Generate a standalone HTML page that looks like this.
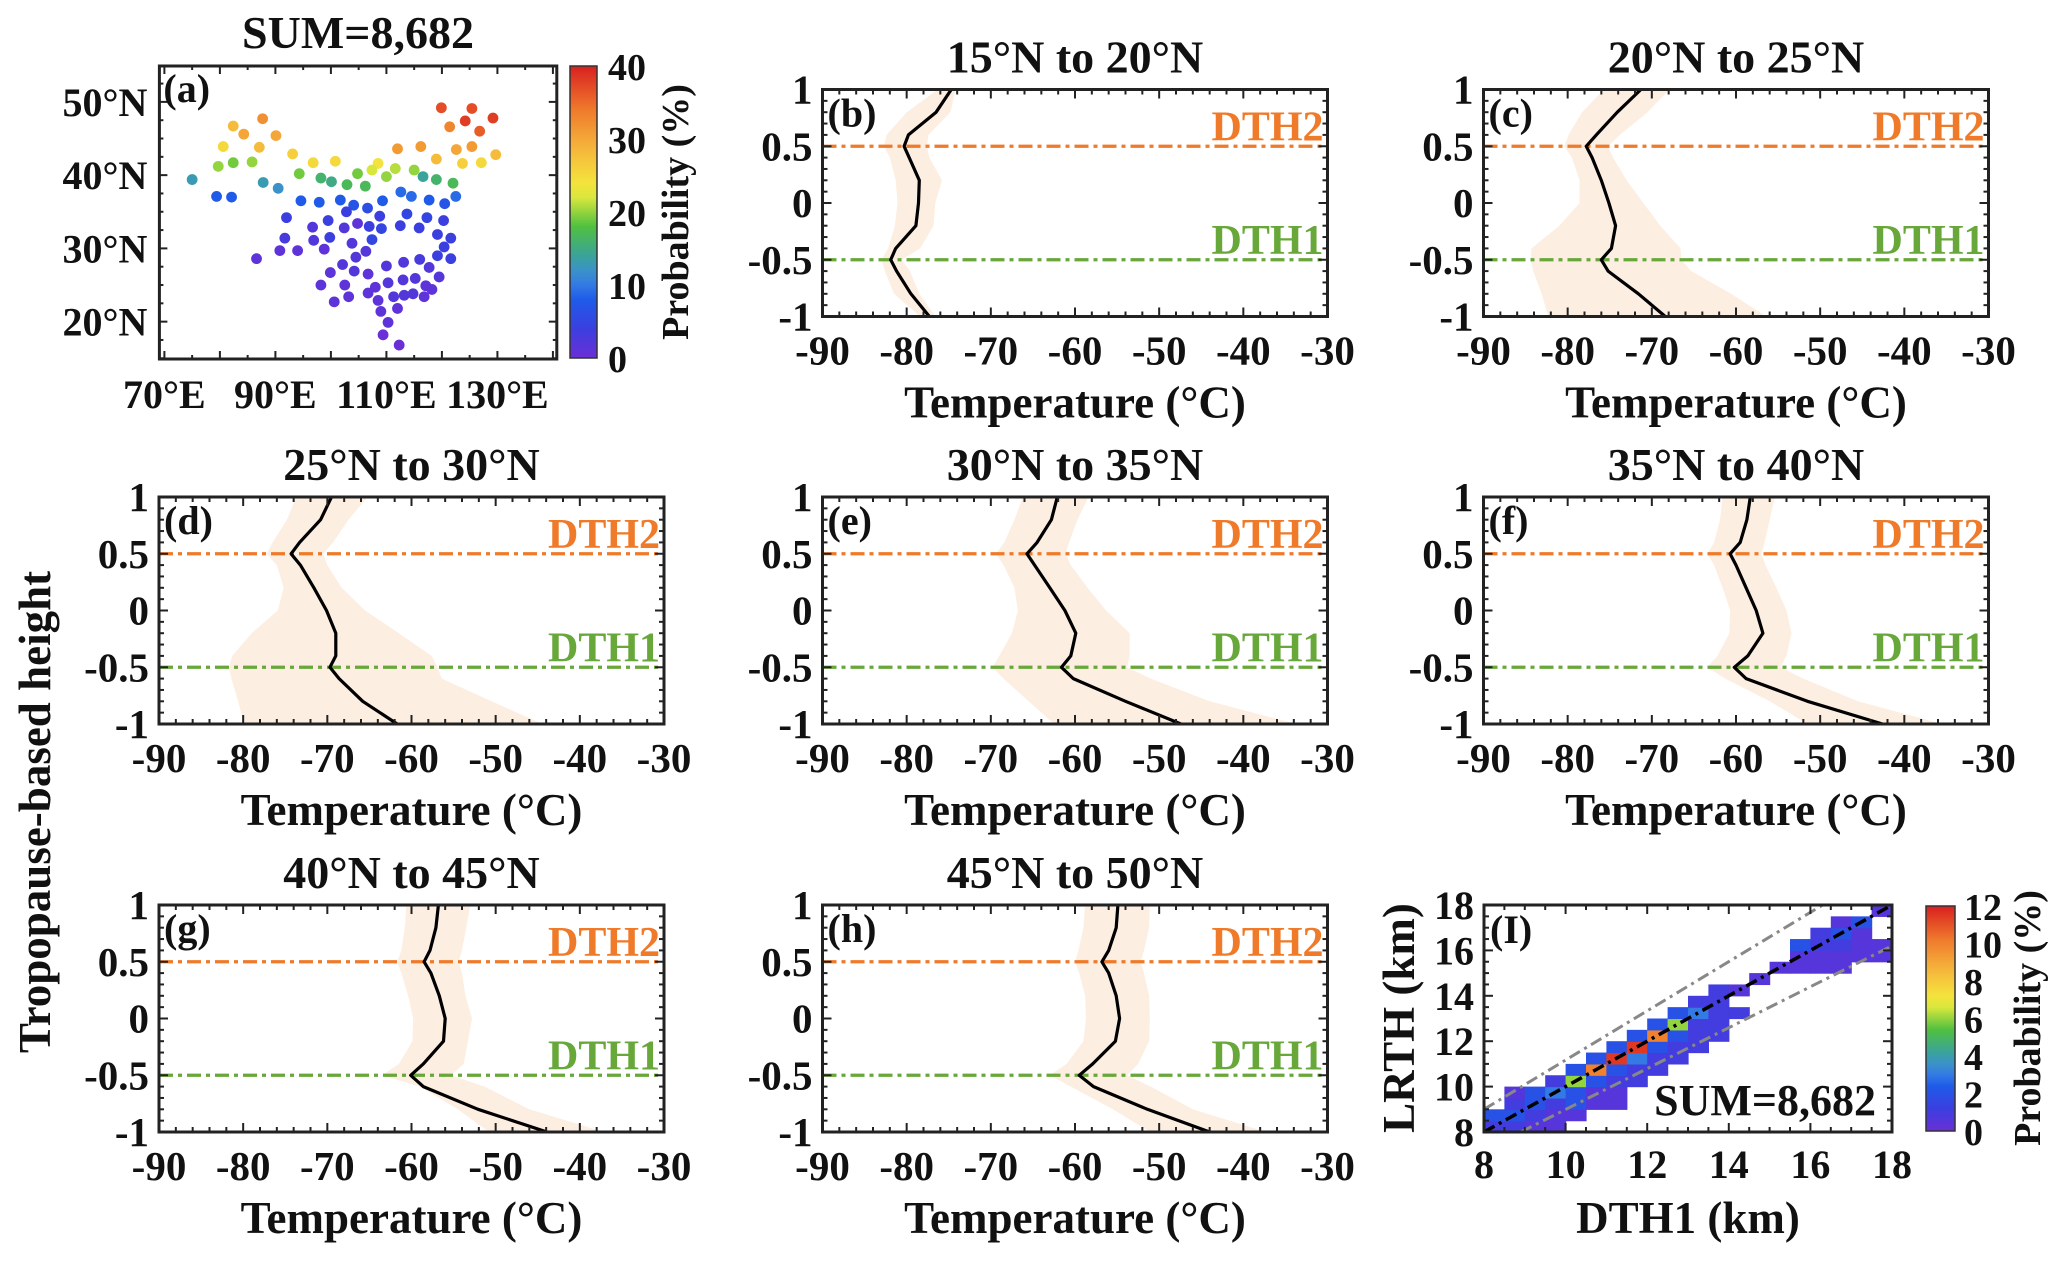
<!DOCTYPE html>
<html><head><meta charset="utf-8">
<style>
html,body{margin:0;padding:0;background:#fff;}
svg{display:block;}
text{font-family:"Liberation Serif",serif;font-weight:bold;fill:#111;}
</style></head>
<body>
<svg id="fig" width="2067" height="1263" viewBox="0 0 2067 1263" xmlns="http://www.w3.org/2000/svg"></svg>
<script>
// ---------- DATA ----------
const heights = [-1,-0.8,-0.6,-0.5,-0.4,-0.2,0,0.2,0.4,0.5,0.6,0.8,1];
const panelTitles = ["15°N to 20°N","20°N to 25°N","25°N to 30°N","30°N to 35°N","35°N to 40°N","40°N to 45°N","45°N to 50°N"];
const panelLetters = ["(b)","(c)","(d)","(e)","(f)","(g)","(h)"];
const meanB=[-77.3,-79.5,-81.2,-81.9,-81.3,-78.9,-78.6,-78.5,-79.7,-80.3,-79.8,-76.5,-74.7];
const lowB =[-78.4,-81.5,-82.6,-83,-82.2,-81.4,-81.1,-81.3,-82,-82.7,-82.4,-80,-76.3];
const upB  =[-76.6,-78.5,-79.6,-80.6,-78.4,-76.8,-76.6,-75.8,-77.3,-77.6,-77.4,-74.8,-74.2];
const meanC=[-68.4,-71.6,-75.2,-76,-74.8,-74.3,-75.1,-76,-77.1,-77.8,-76.6,-74.1,-71.3];
const lowC =[-82.3,-83.1,-84.1,-84.4,-84.3,-81,-78.6,-78.6,-79.5,-80.4,-79.9,-78.3,-75.7];
const upC  =[-56.4,-60.6,-65.3,-66.5,-66.6,-69,-71,-73,-74.6,-75.2,-73.8,-70.5,-67.9];
const meanD=[-61.7,-65.8,-68.6,-69.7,-69,-69,-70.1,-71.6,-73.2,-74.3,-73.3,-70.8,-69.5];
const lowD =[-79.9,-80.6,-81.4,-81.7,-81.3,-79,-75.9,-75.2,-76,-77.2,-76.5,-74.8,-73.7];
const upD  =[-44.4,-50.5,-56.4,-56.9,-57.6,-61.5,-65.5,-68.3,-70,-70.5,-69.3,-67.5,-65.2];
const meanE=[-47.4,-54,-60.2,-61.6,-60.5,-59.9,-61.2,-63,-64.8,-65.7,-64.5,-62.8,-62.1];
const lowE =[-62.5,-65.5,-68.5,-69.8,-69,-67.5,-66.8,-67.2,-68.5,-69.4,-68.4,-67.2,-66.2];
const upE  =[-33.7,-44,-51,-53.8,-53.5,-53.5,-56.3,-58.5,-60.5,-61.1,-60.7,-59.7,-58.4];
const meanF=[-42.6,-51.5,-58.8,-60.2,-58.6,-56.8,-57.6,-58.8,-60,-60.7,-59.5,-58.7,-58.3];
const lowF =[-51.5,-56,-61.3,-63.4,-62.2,-60.8,-60.7,-61.6,-62.6,-63.4,-62.6,-61.9,-61.6];
const upF  =[-35.5,-45.5,-52,-54.7,-54,-53.4,-54,-55.2,-56.5,-57,-56.6,-56,-55.4];
const meanG=[-43.9,-52.1,-58.6,-60.1,-58.6,-56.2,-56,-56.7,-57.7,-58.5,-57.8,-57.1,-56.8];
const lowG =[-50.8,-54.5,-59,-63.5,-61.5,-59.9,-59.8,-60.4,-61.2,-61.7,-61.2,-60.8,-60.6];
const upG  =[-37.1,-46,-51.3,-55.3,-53.8,-53.3,-52.8,-53.6,-54,-54.4,-54,-53.5,-53];
const meanH=[-44,-51.4,-57.8,-59.5,-57.9,-55.2,-54.7,-55.1,-56,-56.8,-56,-55.1,-54.9];
const lowH =[-51.1,-55.5,-60.5,-63,-61,-59,-58.7,-58.8,-59.5,-60,-59.6,-59,-58.8];
const upH  =[-37.3,-46,-51,-53.8,-52.5,-51.2,-51.1,-51.2,-51.8,-52.2,-51.8,-51.2,-51.1];
const xTicks=[-90,-80,-70,-60,-50,-40,-30];
const yTicks=[-1,-0.5,0,0.5,1];
const yTickLabels=["-1","-0.5","0","0.5","1"];

// map stations (lon, lat, probability %)
const stLon=[119.9,125.4,124.2,129.2,121.4,126.8,87.7,82.4,84.3,90.1,80.6,87.1,93.1,96.8,100.8,108.5,112.0,116.2,119.0,122.6,125.4,129.7,123.7,127.1,79.7,82.4,85.8,94.3,98.2,100.1,102.9,104.8,106.2,107.4,110.0,111.6,115.0,116.6,119.0,122.0,75.0,87.8,90.5,79.4,82.1,94.6,97.9,101.7,104.1,106.6,109.3,112.6,114.5,117.7,120.5,122.5,102.8,108.8,113.7,117.3,120.3,92.0,99.5,106.9,109.1,112.5,115.9,99.8,119.2,121.6,107.4,120.4,119.2,121.6,91.7,116.0,96.7,102.4,104.8,96.9,103.8,90.8,94.0,98.8,106.3,86.6,104.5,102.1,110.0,113.1,117.7,99.9,104.2,106.7,119.5,98.2,102.5,110.3,113.0,115.2,117.1,118.2,108.0,106.7,100.6,103.2,108.5,111.3,113.2,114.8,116.8,109.0,112.0,110.3,109.4,112.3];
const stLat=[49.2,49.1,47.4,47.8,46.6,46.0,47.7,46.7,45.6,45.4,43.9,43.8,42.9,41.7,41.9,41.6,43.6,43.9,42.2,43.5,43.9,42.8,41.6,41.7,41.2,41.7,41.8,40.2,39.6,39.1,38.7,40.2,38.5,40.7,39.8,40.9,40.7,39.8,39.4,38.9,39.4,39.0,38.2,37.1,37.0,36.5,36.3,36.6,35.9,35.5,36.5,37.7,37.1,36.6,36.1,37.1,35.0,34.4,34.7,34.2,33.8,34.2,33.8,33.0,32.7,33.1,32.8,31.5,31.9,31.4,31.2,30.2,29.0,28.6,31.4,28.5,32.9,32.8,33.4,31.1,30.7,29.7,29.7,29.9,29.6,28.6,28.8,27.8,27.6,28.1,27.4,26.7,26.9,26.5,26.1,25.0,25.0,25.3,25.7,25.9,24.9,24.4,24.7,23.9,22.7,23.4,22.9,23.4,23.6,23.8,23.4,21.4,21.8,19.9,18.2,16.8];
const stProb=[37,37,38,38,33,36,32,28,30,30,25,28,26,25,25,24,31,31,28,30,31,28,26,25,20,19,20,19,16,15,17,19,17,22,20,21,20,14,16,17,13,13,12,8,8,8,8,8,7,6,8,9,9,8,7,9,4,4,5,5,4,4,4,4,5,4,4,4,4,4,5,4,4,4,3,3,2,2,1,2,2,1,1,1,2,1,2,2,2,2,2,1,2,1,2,1,1,2,2,2,1,1,1,1,1,1,1,2,2,2,1,1,1,1,0,0];
const mapLonTicks=[70,90,110,130];
const mapLatTicks=[20,30,40,50];
const mapCbTicks=[0,10,20,30,40];

// heatmap cells (DTH1 lower edge km, LRTH lower edge km, probability %)
const hmX=[8,8.5,9,9.5, 8,8.5,9,9.5,10, 8.5,9,9.5,10,10.5,11, 8.5,9,9.5,10,10.5,11, 9.5,10,10.5,11,11.5, 10,10.5,11,11.5,12, 10.5,11,11.5,12,12.5, 11,11.5,12,12.5,13, 11.5,12,12.5,13,13.5, 12,12.5,13,13.5, 12.5,13,13.5,14, 13,13.5, 13.5,14, 14.5, 15,15.5,16,16.5, 15.5,16,16.5,17,17.5, 15.5,16,16.5,17,17.5, 16,16.5,17, 16.5,17, 17.5];
const hmY=[8,8,8,8, 8.5,8.5,8.5,8.5,8.5, 9,9,9,9,9,9, 9.5,9.5,9.5,9.5,9.5,9.5, 10,10,10,10,10, 10.5,10.5,10.5,10.5,10.5, 11,11,11,11,11, 11.5,11.5,11.5,11.5,11.5, 12,12,12,12,12, 12.5,12.5,12.5,12.5, 13,13,13,13, 13.5,13.5, 14,14, 14.5, 15,15,15,15, 15.5,15.5,15.5,15.5,15.5, 16,16,16,16,16, 16.5,16.5,16.5, 17,17, 17.5];
const hmV=[1,1,0.5,0.5, 2,2,1,0.5,0.5, 1,2,1,2,0.5,0.5, 0.5,2,3,2,0.5,0.5, 1,6,2,1,1, 2,10,2,1,1, 2,11.5,3,1,1, 2,11.5,2,1,1, 2,10,2,1,1, 2,6,1,1, 2,3,1,1, 1,1, 1,0.5, 0.5, 0.5,0.5,0.5,0.5, 0.5,0.5,0.5,0.5,0.5, 2,1,1,0.5,0.5, 1,2,0.5, 0.5,2, 0.5];
const hmTicks=[8,10,12,14,16,18];
const hmCbTicks=[0,2,4,6,8,10,12];

// ---------- HELPERS ----------
const NS="http://www.w3.org/2000/svg";
const svg=document.getElementById('fig');
function mk(tag,attrs,parent){const e=document.createElementNS(NS,tag);for(const k in attrs)e.setAttribute(k,attrs[k]);(parent||svg).appendChild(e);return e;}
function txt(x,y,s,size,anchor,parent,fill){const t=mk('text',{x:x,y:y,'font-size':size,'text-anchor':anchor||'middle'},parent);if(fill)t.style.fill=fill;t.textContent=s;return t;}
const stops=[[0,[106,47,214]],[0.1,[59,63,224]],[0.2,[31,91,232]],[0.27,[59,135,227]],[0.35,[58,163,154]],[0.45,[80,192,64]],[0.57,[244,239,60]],[0.72,[245,180,60]],[0.85,[239,122,44]],[1,[217,32,32]]];
function cmap(f){f=Math.max(0,Math.min(1,f));for(let i=1;i<stops.length;i++){if(f<=stops[i][0]){const a=stops[i-1],b=stops[i];const t=(f-a[0])/(b[0]-a[0]);const c=a[1].map((v,j)=>Math.round(v+(b[1][j]-v)*t));return `rgb(${c[0]},${c[1]},${c[2]})`;}}return 'rgb(217,32,32)';}
function colorbar(x,y,w,h,name,g){
  const defs=mk('defs',{},g);const id='grad'+name;
  const lg=mk('linearGradient',{id:id,x1:0,y1:1,x2:0,y2:0},defs);
  for(let i=0;i<=20;i++)mk('stop',{offset:i/20,'stop-color':cmap(i/20)},lg);
  const r=mk('rect',{x:x,y:y,width:w,height:h,fill:`url(#${id})`,stroke:'#333','stroke-width':1.5},g);
  
}

// ---------- MAP PANEL (a) ----------
(function(){
  const g=mk('g',{});
  const L=159.4,R=556.8,T=66,B=359,lon0=69.1,lon1=140.7,lat0=14.9,lat1=54.9;
  const sx=v=>L+(v-lon0)/(lon1-lon0)*(R-L), sy=v=>B-(v-lat0)/(lat1-lat0)*(B-T);
  const t=txt(358,48,"SUM=8,682",46,'middle',g);
  for(let i=0;i<stLon.length;i++){
    const c=mk('circle',{cx:sx(stLon[i]),cy:sy(stLat[i]),r:5.4,fill:cmap(stProb[i]/40)},g);
    
  }
  const fr=mk('rect',{x:L,y:T,width:R-L,height:B-T,fill:'none',stroke:'#222','stroke-width':3},g);
  
  for(let v=70;v<=140;v+=5){const x=sx(v);const len=v%10==0?8:4;mk('line',{x1:x,y1:B,x2:x,y2:B-len,stroke:'#222','stroke-width':2},g);mk('line',{x1:x,y1:T,x2:x,y2:T+len,stroke:'#222','stroke-width':2},g);}
  for(let v=15;v<=54;v+=2.5){const y=sy(v);const len=v%10==0?8:4;mk('line',{x1:L,y1:y,x2:L+len,y2:y,stroke:'#222','stroke-width':2},g);mk('line',{x1:R,y1:y,x2:R-len,y2:y,stroke:'#222','stroke-width':2},g);}
  mapLonTicks.forEach(v=>{const e=txt(sx(v),408,v+"°E",40,'middle',g);});
  mapLatTicks.forEach(v=>{const e=txt(L-12,sy(v)+14,v+"°N",40,'end',g);});
  const lb=txt(L+4,T+36,"(a)",40,'start',g);
  colorbar(570,66,27,292,'map',g);
  mapCbTicks.forEach(v=>{const y=358-v/40*292;const e=txt(608,y+14,String(v),38,'start',g);});
  const pl=txt(0,0,"Probability (%)",38,'middle',g);pl.setAttribute('transform','translate(688,212) rotate(-90)');
  
})();

// ---------- PROFILE PANELS ----------
const panelData=[[meanB,lowB,upB],[meanC,lowC,upC],[meanD,lowD,upD],[meanE,lowE,upE],[meanF,lowF,upF],[meanG,lowG,upG],[meanH,lowH,upH]];
const lefts=[822.5,1483.5,159,822.5,1483.5,159,822.5];
const tops=[89.5,89.5,497,497,497,905,905];
panelData.forEach((pd,k)=>{
  const g=mk('g',{});
  const L=lefts[k],T=tops[k],W=505,H=227,R=L+W,B=T+H;
  const sx=v=>L+(v+90)/60*W, sy=v=>T+(1-v)/2*H;
  let d='';heights.forEach((h,i)=>{d+=(i?'L':'M')+sx(pd[1][i]).toFixed(1)+','+sy(h).toFixed(1);});
  for(let i=heights.length-1;i>=0;i--)d+='L'+sx(pd[2][i]).toFixed(1)+','+sy(heights[i]).toFixed(1);
  const band=mk('path',{d:d+'Z',fill:'#fdeee2'},g);
  const l2=mk('line',{x1:L,y1:sy(0.5),x2:R,y2:sy(0.5),stroke:'#ee7a2a','stroke-width':3.2,'stroke-dasharray':'14,5,4,5'},g);
  const l1=mk('line',{x1:L,y1:sy(-0.5),x2:R,y2:sy(-0.5),stroke:'#68a83a','stroke-width':3.2,'stroke-dasharray':'14,5,4,5'},g);
  const pts=heights.map((h,i)=>sx(pd[0][i]).toFixed(1)+','+sy(h).toFixed(1)).join(' ');
  const ml=mk('polyline',{points:pts,fill:'none',stroke:'#000','stroke-width':3.2,'stroke-linejoin':'round'},g);
  const fr=mk('rect',{x:L,y:T,width:W,height:H,fill:'none',stroke:'#222','stroke-width':3},g);
  for(let v=-90;v<=-30;v+=2){const x=sx(v),len=v%10==0?9:5;mk('line',{x1:x,y1:B,x2:x,y2:B-len,stroke:'#222','stroke-width':2},g);mk('line',{x1:x,y1:T,x2:x,y2:T+len,stroke:'#222','stroke-width':2},g);}
  for(let i=-10;i<=10;i++){const y=sy(i/10),len=i%5==0?9:5;mk('line',{x1:L,y1:y,x2:L+len,y2:y,stroke:'#222','stroke-width':2},g);mk('line',{x1:R,y1:y,x2:R-len,y2:y,stroke:'#222','stroke-width':2},g);}
  xTicks.forEach(v=>{const e=txt(sx(v),B+48,String(v),41,'middle',g);});
  yTicks.forEach((v,i)=>{const e=txt(L-10,sy(v)+14,yTickLabels[i],41,'end',g);});
  const ti=txt(L+W/2,T-17,panelTitles[k],46,'middle',g);
  const xl=txt(L+W/2,B+101,"Temperature (°C)",45,'middle',g);
  const lt=txt(L+5,T+37,panelLetters[k],40,'start',g);
  const t2=txt(R-4,sy(0.5)-6,"DTH2",42,'end',g,'#ee7a2a');
  const t1=txt(R-4,sy(-0.5)-6,"DTH1",42,'end',g,'#68a83a');
});
const yl=txt(0,0,"Tropopause-based height",45,'middle');yl.setAttribute('transform','translate(50,812) rotate(-90)');


// ---------- HEATMAP PANEL (I) ----------
(function(){
  const g=mk('g',{});
  const L=1484,R=1892,T=905,B=1132;
  const sx=v=>L+(v-8)/10*(R-L), sy=v=>B-(v-8)/10*(B-T);
  for(let i=0;i<hmX.length;i++){
    const r=mk('rect',{x:sx(hmX[i]),y:sy(hmY[i]+0.5),width:sx(hmX[i]+0.5)-sx(hmX[i])+0.6,height:sy(hmY[i])-sy(hmY[i]+0.5)+0.6,fill:cmap(hmV[i]/12)},g);
    
  }
  const clip=mk('clipPath',{id:'hmclip'},g);mk('rect',{x:L,y:T,width:R-L,height:B-T},clip);
  const gl=mk('g',{'clip-path':'url(#hmclip)'},g);
  const up=mk('line',{x1:sx(8),y1:sy(9),x2:sx(16.3),y2:sy(18),stroke:'#888','stroke-width':3,'stroke-dasharray':'12,5,3,5'},gl);
  const lo=mk('line',{x1:sx(8.9),y1:sy(8),x2:sx(18),y2:sy(16.2),stroke:'#888','stroke-width':3,'stroke-dasharray':'12,5,3,5'},gl);
  const one=mk('line',{x1:sx(8),y1:sy(8),x2:sx(18),y2:sy(18),stroke:'#000','stroke-width':3.5,'stroke-dasharray':'12,5,3,5'},gl);
  const fr=mk('rect',{x:L,y:T,width:R-L,height:B-T,fill:'none',stroke:'#222','stroke-width':3},g);
  for(let v=8;v<=18;v+=0.5){const len=v%2==0?9:5;const x=sx(v),y=sy(v);
    mk('line',{x1:x,y1:B,x2:x,y2:B-len,stroke:'#222','stroke-width':2},g);mk('line',{x1:x,y1:T,x2:x,y2:T+len,stroke:'#222','stroke-width':2},g);
    mk('line',{x1:L,y1:y,x2:L+len,y2:y,stroke:'#222','stroke-width':2},g);mk('line',{x1:R,y1:y,x2:R-len,y2:y,stroke:'#222','stroke-width':2},g);}
  hmTicks.forEach(v=>{const a=txt(sx(v),1178,String(v),40,'middle',g);
    const b=txt(L-10,sy(v)+14,String(v),40,'end',g);});
  const xl=txt(1688,1233,"DTH1 (km)",45,'middle',g);
  const ylb=txt(0,0,"LRTH (km)",45,'middle',g);ylb.setAttribute('transform','translate(1414,1018) rotate(-90)');
  const s=txt(1876,1115,"SUM=8,682",44,'end',g);
  const lb=txt(L+6,T+38,"(I)",40,'start',g);
  colorbar(1926,906,29,225,'heatmap',g);
  hmCbTicks.forEach(v=>{const y=1131-v/12*225;const e=txt(1964,y+14,String(v),38,'start',g);});
  const pl=txt(0,0,"Probability (%)",38,'middle',g);pl.setAttribute('transform','translate(2040,1018) rotate(-90)');
  
})();
</script>
</body></html>
